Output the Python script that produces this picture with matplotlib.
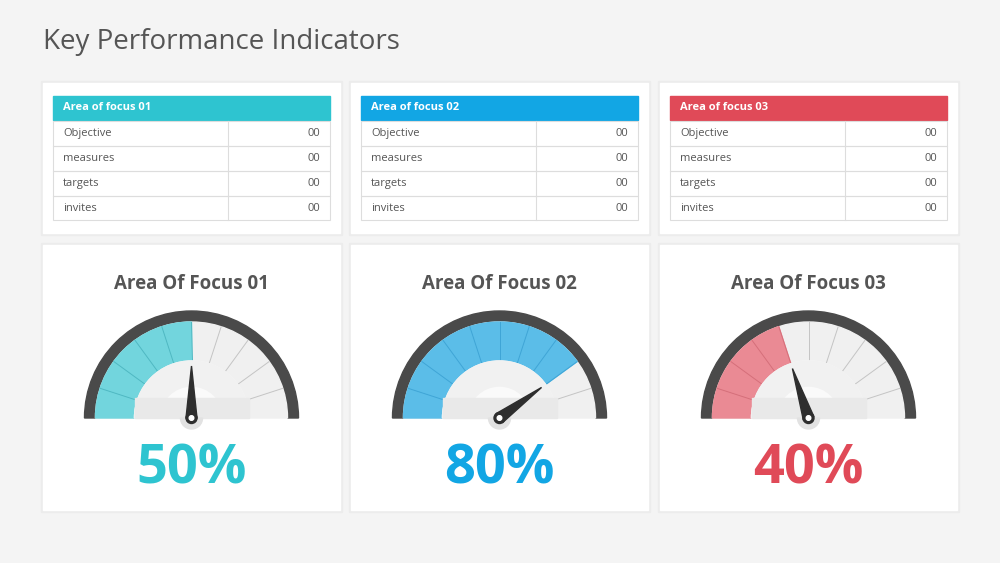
import matplotlib
matplotlib.use("Agg")
import matplotlib.pyplot as plt
from matplotlib.patches import Rectangle, Wedge, Circle, Polygon
import numpy as np

title = "Key Performance Indicators"
table_headers = ["Area of focus 01", "Area of focus 02", "Area of focus 03"]
row_labels = ["Objective", "measures", "targets", "invites"]
row_values = ["00", "00", "00", "00"]
gauge_titles = ["Area Of Focus 01", "Area Of Focus 02", "Area Of Focus 03"]
gauge_values = [50, 80, 40]
main_colors = ["#2EC4D0", "#12A6E4", "#E04A58"]
fill_colors = ["#72D5DD", "#5BBDE8", "#EA8A94"]
tick_colors = ["#4FB8C2", "#3FA5D6", "#D56F7A"]

fig = plt.figure(figsize=(10, 5.63), dpi=100)
ax = fig.add_axes([0, 0, 1, 1])
ax.set_xlim(0, 1000); ax.set_ylim(563, 0); ax.axis("off")
fig.patch.set_facecolor("#F4F4F4")

ax.text(43, 42, title, fontsize=20, color="#555555", va="center", family="Open Sans")

card_x = [43, 351, 660]
cw = 297
for i in range(3):
    x0 = card_x[i]
    for (y0, h) in [(83, 150), (245, 265)]:
        ax.add_patch(Rectangle((x0 - 2, y0 - 2), cw + 4, h + 4, color="#ECECEC", zorder=1))
        ax.add_patch(Rectangle((x0, y0), cw, h, color="white", zorder=2))
    tx0, tx1 = x0 + 10, x0 + 287
    ax.add_patch(Rectangle((tx0, 96), tx1 - tx0, 24, color=main_colors[i], zorder=3))
    ax.text(tx0 + 10, 108, table_headers[i], color="white", fontsize=8, fontweight="bold",
            va="center", family="Open Sans", zorder=4)
    divx = tx0 + 175
    for r, (lab, val) in enumerate(zip(row_labels, row_values)):
        ya = 121 + r * 25
        hh = 25 if r < 3 else 24
        ax.add_patch(Rectangle((tx0, ya), tx1 - tx0, hh, fill=False, ec="#DDDDDD", lw=0.8, zorder=3))
        ax.plot([divx, divx], [ya, ya + hh], color="#DDDDDD", lw=0.8, zorder=3)
        ax.text(tx0 + 10, ya + 12.5, lab, fontsize=8, color="#555555", va="center",
                family="Open Sans", zorder=4)
        ax.text(tx1 - 10, ya + 12.5, val, fontsize=8, color="#555555", va="center", ha="right",
                family="Open Sans", zorder=4)

    cx, cy = x0 + cw / 2, 418
    ax.text(cx, 284, gauge_titles[i], fontsize=13.5, fontweight="bold", color="#555555",
            ha="center", va="center", family="Open Sans", zorder=4)
    ax.add_patch(Wedge((cx, cy), 107, 180, 360, width=11, color="#4A4A4A", zorder=3))
    ax.add_patch(Wedge((cx, cy), 96, 180, 360, width=40, color="#F0F0F0", zorder=3))
    v = gauge_values[i]
    ang = 180 * v / 100
    ax.add_patch(Wedge((cx, cy), 96, 180, 180 + ang, width=40, color=fill_colors[i], zorder=4))
    for k in range(1, 10):
        a = np.deg2rad(180 + 18 * k)
        ax.plot([cx + 58 * np.cos(a), cx + 96 * np.cos(a)], [cy + 58 * np.sin(a), cy + 96 * np.sin(a)],
                color="#C4C4C4" if 18 * k > ang else tick_colors[i], lw=0.7, zorder=5)
    ax.add_patch(Wedge((cx, cy), 57, 180, 360, color="#FAFAFA", zorder=5))
    ax.add_patch(Wedge((cx, cy), 57, 180, 360, width=25, color="#F1F1F1", zorder=5))
    ax.add_patch(Rectangle((cx - 57, cy - 20), 114, 20, color="#E9E9E9", zorder=5))
    ax.add_patch(Wedge((cx, cy), 11, 0, 180, color="#E2E2E2", zorder=5))
    a = np.deg2rad(180 + ang)
    d = np.array([np.cos(a), np.sin(a)]); n = np.array([-d[1], d[0]])
    c = np.array([cx, cy])
    pts = [c + 52 * d, c + 5.5 * n, c - 2 * d, c - 5.5 * n]
    ax.add_patch(Polygon(pts, closed=True, color="#2E2E2E", zorder=6))
    ax.add_patch(Circle((cx, cy), 5.5, color="#2E2E2E", zorder=6))
    ax.add_patch(Circle((cx, cy), 2.3, color="white", zorder=7))
    ax.text(cx, 470, f"{v}%", fontsize=39, fontweight="bold", color=main_colors[i],
            ha="center", va="center", family="Open Sans", zorder=4)

fig.savefig("out.png", dpi=100, facecolor=fig.get_facecolor())
